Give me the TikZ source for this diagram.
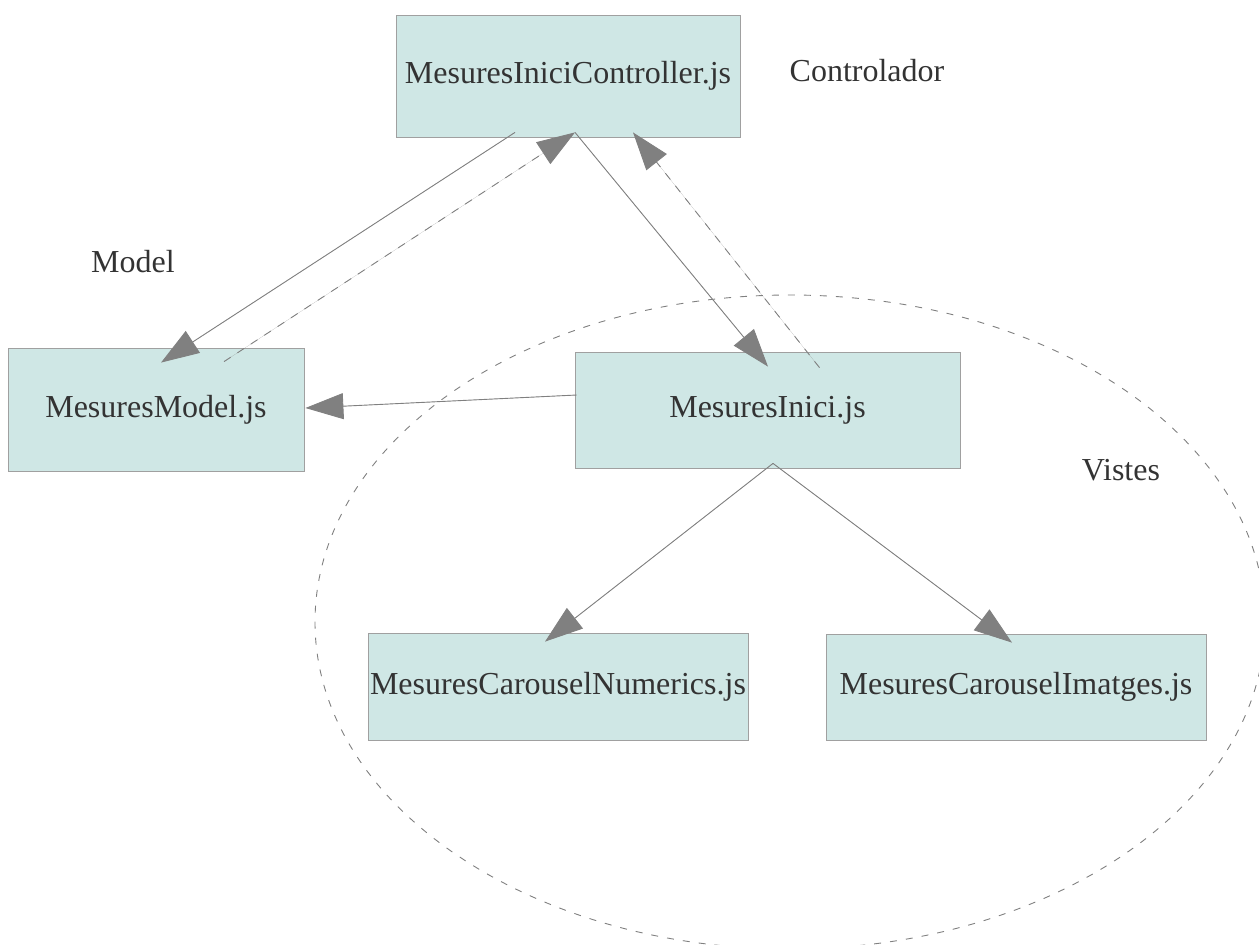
\documentclass[tikz,border=0pt]{standalone}
\usepackage{fontspec}
\setmainfont{Liberation Serif}
\usepackage{tikz}
\usetikzlibrary{arrows.meta,positioning,calc}
\definecolor{boxfill}{HTML}{CFE7E5}
\definecolor{boxline}{HTML}{A0A0A0}
\definecolor{txt}{HTML}{333333}
\definecolor{lnk}{HTML}{808080}

\begin{document}
\begin{tikzpicture}[x = .5pt, y = -.5pt,
  box/.style = {draw = boxline, fill = boxfill, text = txt, font = \fontsize{16}{19}\selectfont, inner sep = 0pt},
  lbl/.style = {text = txt, font = \fontsize{16}{19}\selectfont},
  arr/.style = {-{Triangle[length=19pt, width=13pt]}, draw = lnk, fill = lnk, line width = .45pt},
  dsh/.style = {arr, dash pattern = on 4pt off 4pt}]
\useasboundingbox (0,0) rectangle (1259,944);
% Vistes group
\begin{scope}
\clip (0,0) rectangle (1259,944);
\draw[lnk, dash pattern = on 3.5pt off 4.5pt, line width = .45pt] (790,622) ellipse [x radius = 475, y radius = 327];
\end{scope}
\node[box, minimum width = 172pt, minimum height = 61pt] (ctrl) at (568,76) {MesuresIniciController.js};
\node[box, minimum width = 148pt, minimum height = 61.5pt] (model) at (156,409.5) {MesuresModel.js};
\node[box, minimum width = 192.5pt, minimum height = 58pt] (inici) at (767.5,410) {MesuresInici.js};
\node[box, minimum width = 190pt, minimum height = 53.5pt] (numerics) at (558,686.5) {MesuresCarouselNumerics.js};
\node[box, minimum width = 190pt, minimum height = 53pt] (imatges) at (1016,687) {MesuresCarouselImatges.js};
\node[lbl] (lctrl) at (867,71) {Controlador};
\node[lbl] (lmodel) at (133,262) {Model};
\node[lbl] (lvistes) at (1121,470) {Vistes};
\draw[arr] ($(ctrl.south)+(-53,-5)$) -- ($(model.north)+(5,15)$);
\draw[dsh] ($(model.north)+(68,14)$) -- ($(ctrl.south)+(7,-5)$);
\draw[arr] ($(ctrl.south)+(7,-5)$) -- ($(inici.north)+(0.5,15)$);
\draw[dsh] ($(inici.north)+(52,16)$) -- ($(ctrl.south)+(65,-5)$);
\draw[arr] ($(inici.west)+(2,-15)$) -- ($(model.east)+(1,-1.5)$);
\draw[arr] ($(inici.south)+(5.5,-5)$) -- ($(numerics.north)+(-13,9)$);
\draw[arr] ($(inici.south)+(5.5,-5)$) -- ($(imatges.north)+(-4,9)$);
\end{tikzpicture}
\end{document}
